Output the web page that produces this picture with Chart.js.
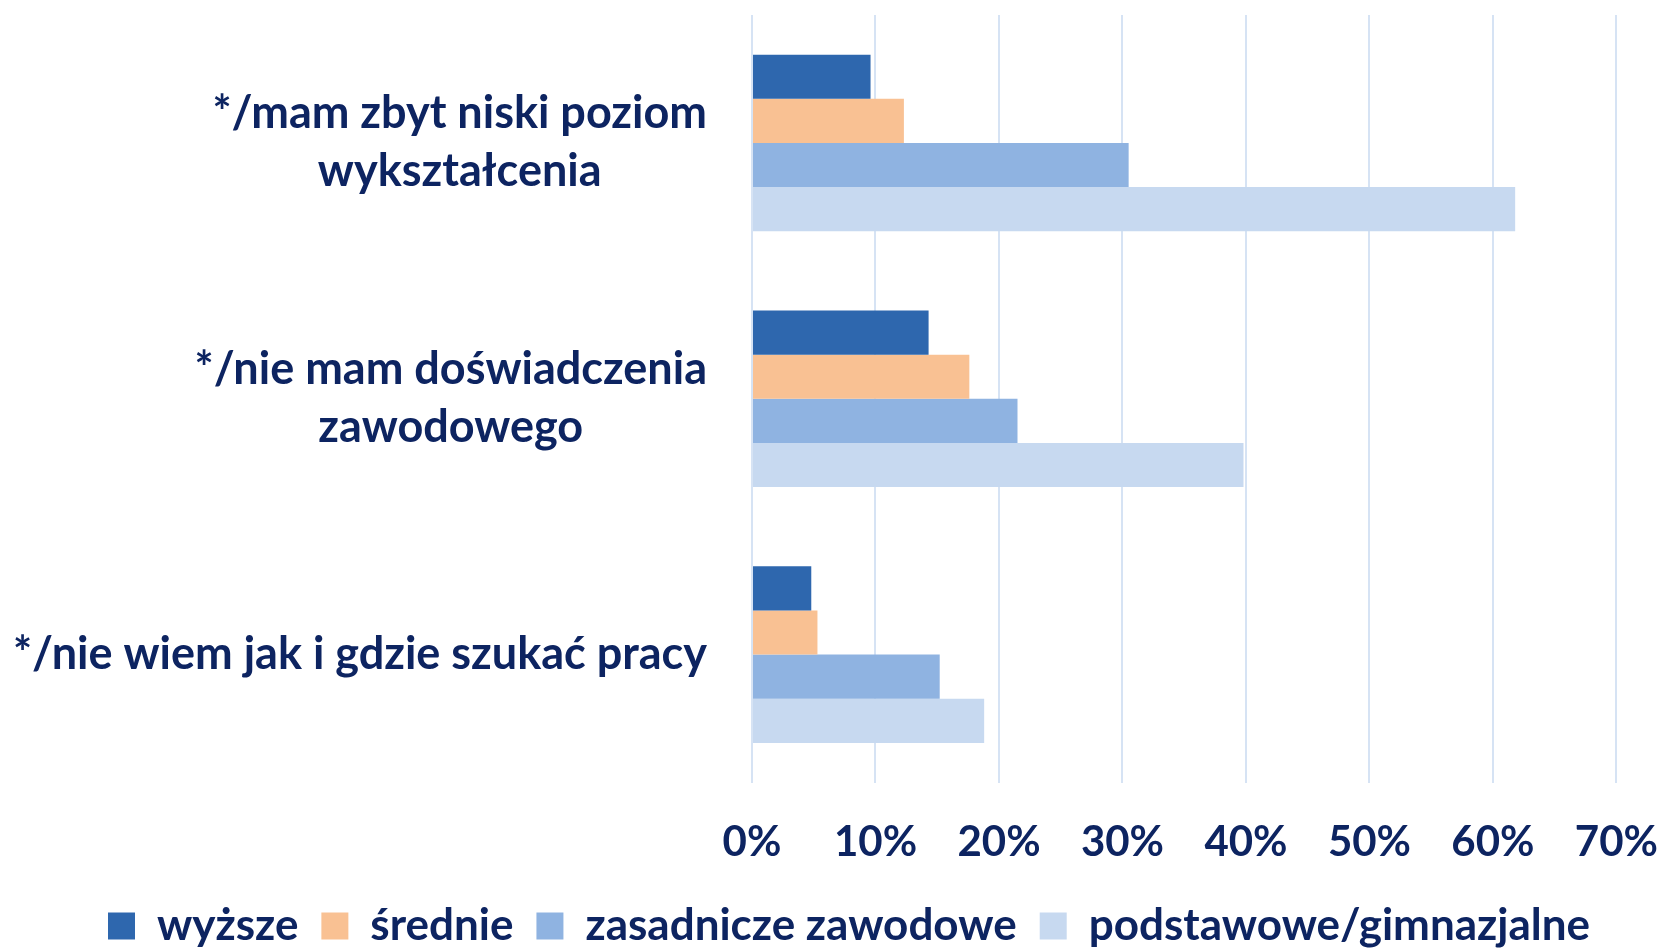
<!DOCTYPE html>
<html>
<head>
<meta charset="utf-8">
<script src="https://cdn.jsdelivr.net/npm/chart.js@4"></script>
<style>
  html, body { margin: 0; padding: 0; background: #fff; }
  #wrap { width: 1662px; height: 948px; position: relative; }
</style>
</head>
<body>
<div id="wrap"><canvas id="reasonsChart"></canvas></div>
<script>
// categories, top to bottom (each entry = lines of the label)
const categories = [
  ["*/mam zbyt niski poziom", "wykształcenia"],
  ["*/nie mam doświadczenia", "zawodowego"],
  ["*/nie wiem jak i gdzie szukać pracy"]
];
const seriesNames = ["wyższe", "średnie", "zasadnicze zawodowe", "podstawowe/gimnazjalne"];
const wyzsze = [9.6, 14.3, 4.8];
const srednie = [12.3, 17.6, 5.3];
const zasadnicze = [30.5, 21.5, 15.2];
const podstawowe = [61.8, 39.8, 18.8];
const xTicks = [0, 10, 20, 30, 40, 50, 60, 70];

const navy = "#0D2461";
const fontFamily = "Lato, 'Open Sans', sans-serif";
const labelSize = 45;
const tickSize = 42;

// y labels: block right-aligned next to the axis, lines centred inside the block
const categoryLabels = {
  id: "categoryLabels",
  afterDraw(chart) {
    const ctx = chart.ctx;
    const yScale = chart.scales.y;
    const right = chart.chartArea.left - 45;
    const lineGap = 58;
    ctx.save();
    ctx.font = "bold " + labelSize + "px " + fontFamily;
    ctx.fillStyle = navy;
    ctx.textAlign = "center";
    ctx.textBaseline = "middle";
    categories.forEach(function (lines, i) {
      const y = yScale.getPixelForValue(i);
      const blockWidth = Math.max.apply(null, lines.map(function (l) { return ctx.measureText(l).width; }));
      const cx = right - blockWidth / 2;
      const top = y - ((lines.length - 1) * lineGap) / 2;
      lines.forEach(function (line, j) {
        ctx.fillText(line, cx, top + j * lineGap);
      });
    });
    ctx.restore();
  }
};

const ctx = document.getElementById("reasonsChart").getContext("2d");
const reasonsChartConfig = {
  type: "bar",
  data: {
    labels: categories,
    datasets: [
      { label: seriesNames[0], data: wyzsze, backgroundColor: "#2E67AE", borderWidth: 0 },
      { label: seriesNames[1], data: srednie, backgroundColor: "#F9C193", borderWidth: 0 },
      { label: seriesNames[2], data: zasadnicze, backgroundColor: "#8FB3E1", borderWidth: 0 },
      { label: seriesNames[3], data: podstawowe, backgroundColor: "#C7D9F0", borderWidth: 0 },
    ],
  },
  options: {
    indexAxis: "y",
    responsive: true,
    maintainAspectRatio: false,
    animation: false,
    categoryPercentage: 0.69,
    barPercentage: 1.0,
    // left padding nudges the centred legend to the right; y width makes up the rest
    layout: { padding: { top: 15, right: 2, left: 38, bottom: -10 } },
    scales: {
      x: {
        min: 0,
        max: 70,
        afterBuildTicks: function (scale) {
          scale.ticks = xTicks.map(function (v) { return { value: v }; });
        },
        // invisible tick marks push the labels down without widening the side padding
        grid: { color: "#D6E3F4", lineWidth: 2, drawTicks: true, tickLength: 22, tickColor: "rgba(0,0,0,0)" },
        border: { display: false },
        ticks: {
          padding: 4,
          color: navy,
          font: { family: fontFamily, size: tickSize, weight: "bold", lineHeight: 1.63 },
          callback: function (v) { return v + "%"; },
        },
      },
      y: {
        grid: { display: false },
        border: { display: false },
        ticks: { display: false },
        afterFit: function (scale) { scale.width = 714; },
      },
    },
    plugins: {
      tooltip: { enabled: false },
      legend: {
        position: "bottom",
        labels: {
          boxWidth: 27,
          boxHeight: 27,
          padding: 23,
          color: navy,
          font: { family: fontFamily, size: 44, weight: "bold" },
        },
      },
    },
  },
  plugins: [categoryLabels],
};

new Chart(ctx, reasonsChartConfig);
</script>
</body>
</html>
